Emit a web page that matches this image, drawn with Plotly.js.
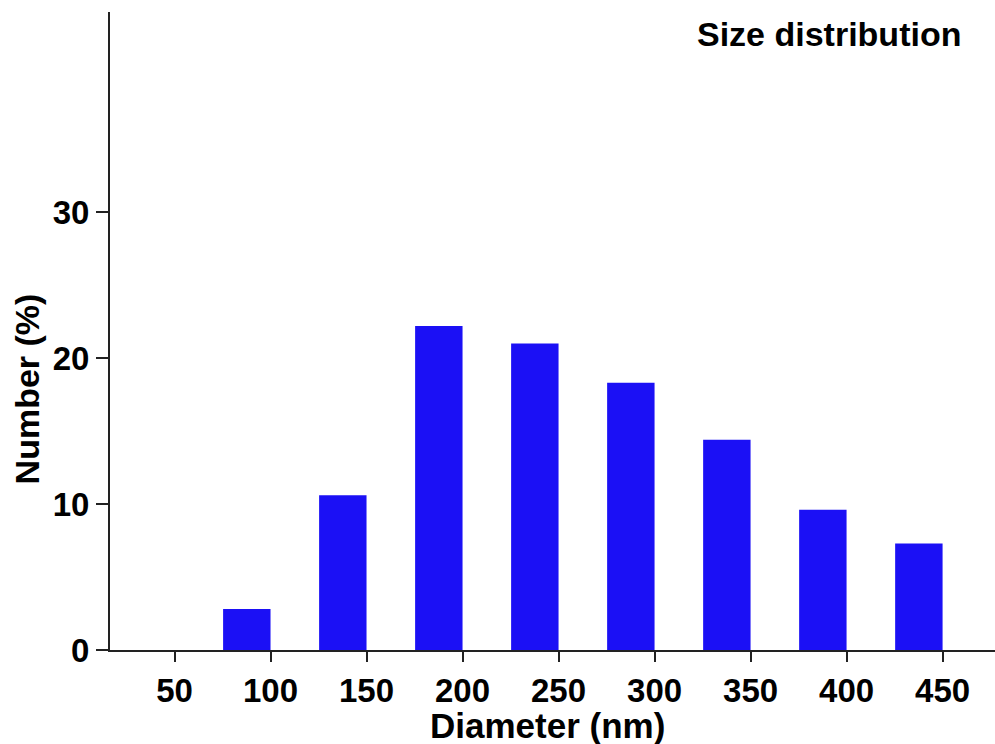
<!DOCTYPE html>
<html>
<head>
<meta charset="utf-8">
<script src="https://cdn.plot.ly/plotly-3.0.1.min.js"></script>
<style>
  html, body { margin: 0; padding: 0; background: #fff; }
  #chart { width: 995px; height: 744px; }
</style>
</head>
<body>
<div id="chart"></div>
<script>
// Data
const diameters = [50, 100, 150, 200, 250, 300, 350, 400, 450];
const numberPct = [0, 2.8, 10.6, 22.2, 21.0, 18.3, 14.4, 9.6, 7.3];
const xTickVals = [50, 100, 150, 200, 250, 300, 350, 400, 450];
const yTickVals = [0, 10, 20, 30];

const FONT = 'Liberation Sans, Arial, Helvetica, sans-serif';
const AXIS = '#222222';
const BAR_W = 24.7;

const trace = {
  type: 'bar',
  x: diameters,
  y: numberPct,
  width: BAR_W,
  offset: -BAR_W,
  marker: { color: '#1b10f5', line: { width: 0 } },
  hoverinfo: 'x+y'
};

const layout = {
  width: 995,
  height: 744,
  margin: { l: 110, r: 0, t: 12, b: 94 },
  paper_bgcolor: '#ffffff',
  plot_bgcolor: '#ffffff',
  showlegend: false,
  font: { family: FONT, color: '#000' },
  xaxis: {
    range: [16.4, 477.3],
    tickmode: 'array',
    tickvals: xTickVals,
    ticktext: xTickVals.map(String),
    showgrid: false,
    zeroline: false,
    showline: true,
    linecolor: AXIS,
    linewidth: 2,
    ticks: 'outside',
    ticklen: 10,
    tickwidth: 2,
    tickcolor: AXIS,
    tickfont: { family: FONT, size: 33, weight: 'bold', color: '#000' }
  },
  yaxis: {
    range: [0, 43.7],
    tickmode: 'array',
    tickvals: yTickVals,
    ticktext: yTickVals.map(String),
    showgrid: false,
    zeroline: false,
    showline: true,
    linecolor: AXIS,
    linewidth: 2,
    ticks: 'outside',
    ticklen: 12,
    tickwidth: 2,
    tickcolor: AXIS,
    tickfont: { family: FONT, size: 33, weight: 'bold', color: '#000' }
  },
  annotations: [
    {
      text: 'Size distribution',
      xref: 'paper', yref: 'paper',
      x: 0.8124, y: 0.965,
      xanchor: 'center', yanchor: 'middle',
      showarrow: false,
      font: { family: FONT, size: 34, weight: 'bold', color: '#000' }
    },
    {
      text: 'Diameter (nm)',
      xref: 'paper', yref: 'paper',
      x: 0.4944, y: -0.1176,
      xanchor: 'center', yanchor: 'middle',
      showarrow: false,
      font: { family: FONT, size: 35, weight: 'bold', color: '#000' }
    },
    {
      text: 'Number (%)',
      xref: 'paper', yref: 'paper',
      x: -0.0938, y: 0.41,
      xanchor: 'center', yanchor: 'middle',
      textangle: -90,
      showarrow: false,
      font: { family: FONT, size: 34, weight: 'bold', color: '#000' }
    }
  ]
};

Plotly.newPlot('chart', [trace], layout, { displayModeBar: false, staticPlot: true });
</script>
</body>
</html>
